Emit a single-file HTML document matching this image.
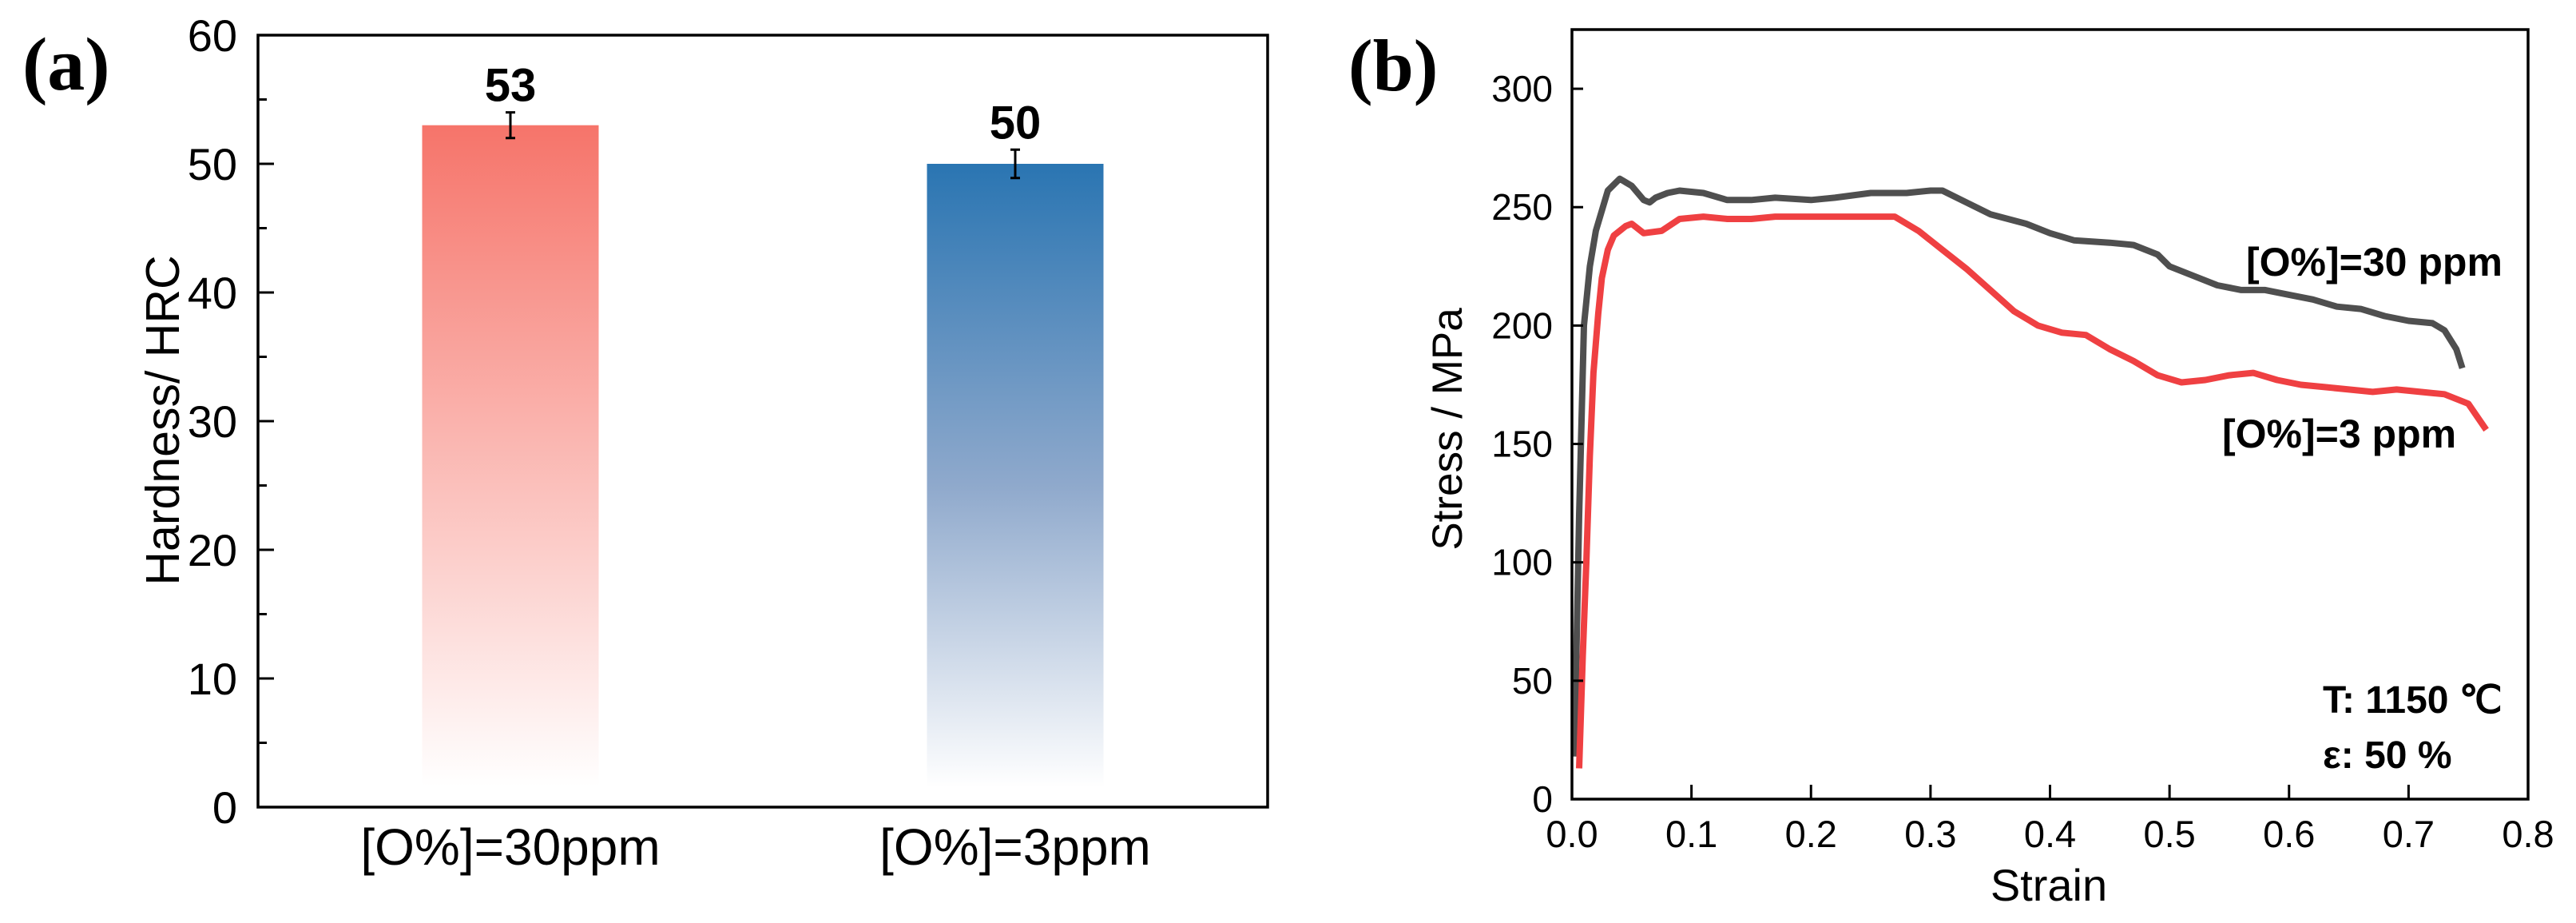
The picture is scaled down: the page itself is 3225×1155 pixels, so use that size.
<!DOCTYPE html>
<html><head><meta charset="utf-8"><style>
html,body{margin:0;padding:0;background:#fff;}
svg{display:block;}
text{font-family:"Liberation Sans",sans-serif;}
text.serif{font-family:"Liberation Serif",serif;}
</style></head><body>
<svg id="fig" width="3225" height="1155" viewBox="0 0 3225 1155" xmlns="http://www.w3.org/2000/svg">
<defs>
<linearGradient id="gRed" x1="0" y1="0" x2="0" y2="1"><stop offset="0" stop-color="#f6746a"/><stop offset="0.97" stop-color="#ffffff"/></linearGradient>
<linearGradient id="gBlue" x1="0" y1="0" x2="0" y2="1"><stop offset="0" stop-color="#2a75b2"/><stop offset="0.5" stop-color="#8fa9cc"/><stop offset="0.97" stop-color="#ffffff"/></linearGradient>
</defs>
<g id="pa"></g>
<g id="pb"></g>
</svg>
<script>
// Panel (a) data
const barCats = ["[O%]=30ppm", "[O%]=3ppm"];
const barVals = [53, 50];
const barErrs = [1.0, 1.1];
const aTicks = [0, 10, 20, 30, 40, 50, 60];
// Panel (b) data
const strain30 = [0.002,0.006,0.01,0.015,0.02,0.03,0.04,0.05,0.06,0.065,0.07,0.08,0.09,0.11,0.13,0.15,0.17,0.2,0.22,0.25,0.28,0.3,0.31,0.33,0.35,0.38,0.4,0.42,0.45,0.47,0.49,0.5,0.52,0.54,0.56,0.58,0.6,0.62,0.64,0.66,0.68,0.7,0.72,0.73,0.74,0.745];
const stress30 = [18,120,200,225,240,257,262,259,253,252,254,256,257,256,253,253,254,253,254,256,256,257,257,252,247,243,239,236,235,234,230,225,221,217,215,215,213,211,208,207,204,202,201,198,190,182];
const strain3 = [0.006,0.009,0.012,0.015,0.018,0.022,0.025,0.03,0.035,0.045,0.05,0.06,0.075,0.09,0.11,0.13,0.15,0.17,0.2,0.25,0.27,0.29,0.31,0.33,0.35,0.37,0.39,0.41,0.43,0.45,0.47,0.49,0.51,0.53,0.55,0.57,0.59,0.61,0.63,0.65,0.67,0.69,0.71,0.73,0.75,0.765];
const stress3 = [13,60,100,145,180,205,220,232,238,242,243,239,240,245,246,245,245,246,246,246,246,240,232,224,215,206,200,197,196,190,185,179,176,177,179,180,177,175,174,173,172,173,172,171,167,156];
const bXTicks = [0,0.1,0.2,0.3,0.4,0.5,0.6,0.7,0.8];
const bYTicks = [0,50,100,150,200,250,300];

const NS="http://www.w3.org/2000/svg";
function mk(parent,tag,attrs,txt){const e=document.createElementNS(NS,tag);for(const k in attrs)e.setAttribute(k,attrs[k]);if(txt!==undefined)e.textContent=txt;parent.appendChild(e);return e;}

// ---------- Panel A ----------
const pa=document.getElementById('pa');
const aL=323,aR=1587,aT=44,aB=1010,aMax=60;
const ay=v=>aB-(v/aMax)*(aB-aT);
const ax=i=>aL+(aR-aL)*(0.25+0.5*i);
const grads=['url(#gRed)','url(#gBlue)'];
barVals.forEach((v,i)=>{
  const w=221,x=ax(i)-w/2;
  const r=mk(pa,'rect',{x:x,y:ay(v),width:w,height:aB-ay(v),fill:grads[i]});
  
  
  const e=mk(pa,'path',{d:`M${ax(i)} ${ay(v+barErrs[i])}V${ay(v-barErrs[i])}M${ax(i)-6} ${ay(v+barErrs[i])}h12M${ax(i)-6} ${ay(v-barErrs[i])}h12`,stroke:'#000','stroke-width':3,fill:'none'});
  
  
  const t=mk(pa,'text',{x:ax(i),y:ay(v+barErrs[i])-14,'text-anchor':'middle','font-size':58,'font-weight':'bold'},String(v));
  
  
  const c=mk(pa,'text',{x:ax(i),y:1082,'text-anchor':'middle','font-size':64},barCats[i]);
  
  
});
const aFrame=mk(pa,'rect',{x:aL,y:aT,width:aR-aL,height:aB-aT,fill:'none',stroke:'#000','stroke-width':3.5});


aTicks.forEach(v=>{
  mk(pa,'line',{x1:aL,x2:aL+20,y1:ay(v),y2:ay(v),stroke:'#000','stroke-width':3});
  const t=mk(pa,'text',{x:aL-26,y:ay(v)+20,'text-anchor':'end','font-size':56},String(v));
  
  
  if(v<aMax) mk(pa,'line',{x1:aL,x2:aL+11,y1:ay(v+5),y2:ay(v+5),stroke:'#000','stroke-width':3});
});
const ayt=mk(pa,'text',{x:0,y:0,'text-anchor':'middle','font-size':59,transform:'translate(224,526) rotate(-90)'},'Hardness/ HRC');


const la=mk(pa,'text',{x:28,y:112,'font-size':94,'font-weight':'bold',class:'serif'},'(a)');



// ---------- Panel B ----------
const pb=document.getElementById('pb');
const bL=1968,bR=3165,bT=37,bB=1000,bXMax=0.8,bYMax=325;
const bx=v=>bL+(v/bXMax)*(bR-bL);
const by=v=>bB-(v/bYMax)*(bB-bT);
function line(xs,ys,color,name){
  const d=xs.map((x,i)=>(i?'L':'M')+bx(x).toFixed(1)+' '+by(ys[i]).toFixed(1)).join('');
  const p=mk(pb,'path',{d:d,fill:'none',stroke:color,'stroke-width':8,'stroke-linejoin':'round'});
  
  
}
line(strain30,stress30,'#4f4f4f','curve-30ppm');
line(strain3,stress3,'#ef4042','curve-3ppm');
const bFrame=mk(pb,'rect',{x:bL,y:bT,width:bR-bL,height:bB-bT,fill:'none',stroke:'#000','stroke-width':3.5});


bYTicks.forEach(v=>{
  mk(pb,'line',{x1:bL,x2:bL+14,y1:by(v),y2:by(v),stroke:'#000','stroke-width':3});
  const t=mk(pb,'text',{x:bL-24,y:by(v)+16,'text-anchor':'end','font-size':46},String(v));
  
  
});
bXTicks.forEach(v=>{
  mk(pb,'line',{x1:bx(v),x2:bx(v),y1:bB,y2:bB-18,stroke:'#000','stroke-width':3});
  const t=mk(pb,'text',{x:bx(v),y:1060,'text-anchor':'middle','font-size':47},v.toFixed(1));
  
  
});
const bxt=mk(pb,'text',{x:2565,y:1127,'text-anchor':'middle','font-size':56},'Strain');


const byt=mk(pb,'text',{x:0,y:0,'text-anchor':'middle','font-size':53,transform:'translate(1830,537) rotate(-90)'},'Stress / MPa');


const lb=mk(pb,'text',{x:1688,y:113,'font-size':92,'font-weight':'bold',class:'serif'},'(b)');


const l1=mk(pb,'text',{x:2812,y:345,'font-size':50,'font-weight':'bold'},'[O%]=30 ppm');


const l2=mk(pb,'text',{x:2782,y:560,'font-size':50,'font-weight':'bold'},'[O%]=3 ppm');


const c1=mk(pb,'text',{x:2908,y:892,'font-size':48,'font-weight':'bold'},'T: 1150 ℃');


const c2=mk(pb,'text',{x:2908,y:961,'font-size':48,'font-weight':'bold'},'ε: 50 %');


</script>
</body></html>
